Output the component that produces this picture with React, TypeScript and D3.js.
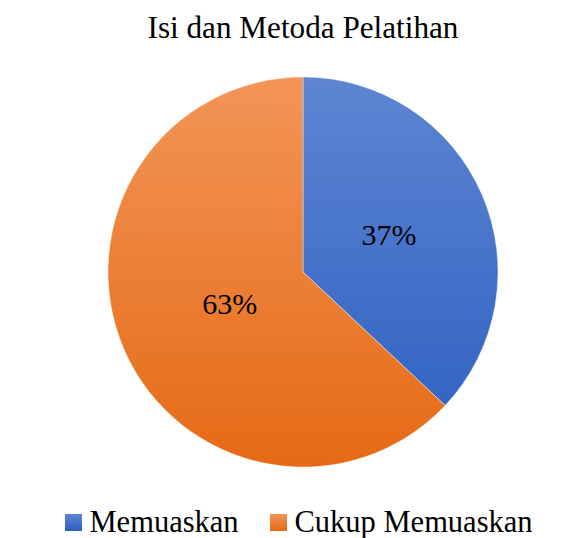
import React from "react";
import * as d3 from "d3";

const title = "Isi dan Metoda Pelatihan";
const categories = ["Memuaskan", "Cukup Memuaskan"];
const values = [37, 63];
const labels = ["37%", "63%"];
const labelRadius = [0.48, 0.41];
const gradTop = ["#5d85d2", "#f29557"];
const gradBottom = ["#2c5fc1", "#e56a15"];

const W = 578;
const H = 538;
const cx = 303;
const cy = 272;
const R = 195;
const FONT = "Liberation Serif";

export default function App() {
  const pie = d3.pie<number>().sort(null).value((d) => d);
  const arcs = pie(values);
  const arc = d3.arc<d3.PieArcDatum<number>>().innerRadius(0).outerRadius(R);

  const legendX = [65, 270];
  return (
    <svg width={W} height={H} style={{ position: "absolute", left: 0, top: 0 }}>
      <defs>
        {categories.map((c, i) => (
          <linearGradient key={c} id={`g${i}`} gradientUnits="userSpaceOnUse" x1={0} y1={-R} x2={0} y2={R}>
            <stop offset="0" stopColor={gradTop[i]} />
            <stop offset="1" stopColor={gradBottom[i]} />
          </linearGradient>
        ))}
        {categories.map((c, i) => (
          <linearGradient key={c + "l"} id={`l${i}`} x1={0} y1={0} x2={0} y2={1}>
            <stop offset="0" stopColor={gradTop[i]} />
            <stop offset="1" stopColor={gradBottom[i]} />
          </linearGradient>
        ))}
      </defs>
      <rect width={W} height={H} fill="#fff" />
      <text x={cx} y={38} textAnchor="middle" fontFamily={FONT} fontSize={31.2} fill="#000">
        {title}
      </text>
      <g transform={`translate(${cx},${cy})`}>
        {arcs.map((a, i) => (
          <path key={i} d={arc(a) || ""} fill={`url(#g${i})`} stroke="#fff" strokeOpacity={0.5} strokeWidth={0.8} />
        ))}
        {arcs.map((a, i) => {
          const m = (a.startAngle + a.endAngle) / 2;
          const r = R * labelRadius[i];
          const x = Math.sin(m) * r;
          const y = -Math.cos(m) * r;
          return (
            <text key={"t" + i} x={x} y={y} dy="0.35em" textAnchor="middle" fontFamily={FONT} fontSize={30} fill="#000">
              {labels[i]}
            </text>
          );
        })}
      </g>
      {categories.map((c, i) => (
        <g key={"lg" + i}>
          <rect x={legendX[i]} y={514} width={17} height={17} fill={`url(#l${i})`} />
          <text x={legendX[i] + 24.5} y={532} fontFamily={FONT} fontSize={30.5} fill="#000">
            {c}
          </text>
        </g>
      ))}
    </svg>
  );
}
